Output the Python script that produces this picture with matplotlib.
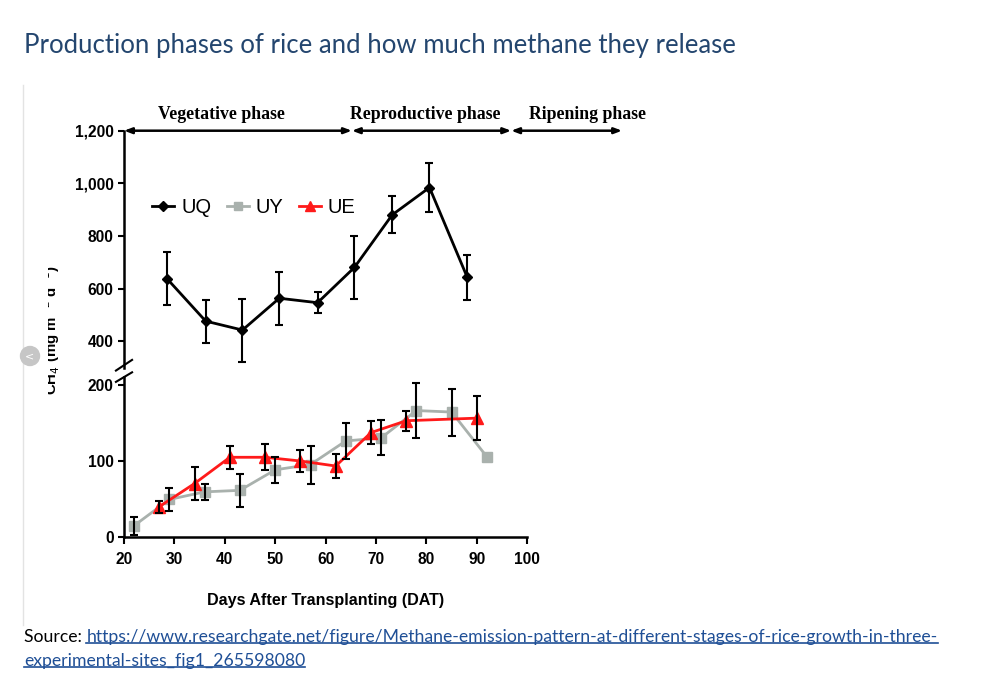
#!/usr/bin/env python3
"""Methane emission pattern at different stages of rice growth (broken y axis)."""

import numpy as np
import matplotlib
matplotlib.use('Agg')
import matplotlib.pyplot as plt
from matplotlib.lines import Line2D
from matplotlib.patches import Ellipse
from matplotlib.transforms import Bbox

# Data
uq_days = [28.5, 36.2, 43.5, 50.8, 58.4, 65.7, 73.2, 80.6, 88.1]
uq_vals = [638, 476, 442, 563, 546, 680, 880, 984, 642]
uq_err = [101, 82, 120, 101, 41, 120, 70, 93, 84]

uy_days = [22, 29, 36, 43, 50, 57, 64, 71, 78, 85, 92]
uy_vals = [14.5, 49, 59, 61, 88, 95, 126, 130, 166, 164, 105]
uy_err = [12, 15, 11, 22, 17, 25, 24, 23, 36, 31, np.nan]

ue_days = [27, 34, 41, 48, 55, 62, 69, 76, 90]
ue_vals = [39.5, 70, 104.5, 104.5, 99.6, 93, 137, 152.6, 156]
ue_err = [8, 22, 15, 17, 14, 16, 15, 13, 29]

phase_names = ['Vegetative phase', 'Reproductive phase', 'Ripening phase']
phase_bounds = [20, 65.2, 96.8, 118.8]
phase_label_x = [39.3, 79.7, 112]

x_ticks = [20, 30, 40, 50, 60, 70, 80, 90, 100]
upper_ticks = [400, 600, 800, 1000, 1200]
lower_ticks = [0, 100, 200]

W, H = 981, 678
fig = plt.figure(figsize=(W / 100, H / 100), dpi=100)
fig.patch.set_facecolor('white')


def px(x, y):
    """pixel (from top-left) -> figure fraction"""
    return x / W, 1 - y / H


TICK_FONT = dict(family='Liberation Sans', weight='bold', size=11.2)

ax_top = fig.add_axes([124 / W, 1 - 368.2 / H, 403.3 / W, 237.5 / H])
ax_bot = fig.add_axes([124 / W, 1 - 536.7 / H, 403.3 / W, 159.6 / H])

for ax in (ax_top, ax_bot):
    ax.set_xlim(20, 100)
    ax.spines['top'].set_visible(False)
    ax.spines['right'].set_visible(False)
    ax.spines['left'].set_linewidth(1.8)
    ax.spines['bottom'].set_linewidth(1.8)
    ax.tick_params(axis='y', direction='out', length=4.5, width=1.5, pad=3)
    ax.patch.set_alpha(0)

ax_top.set_ylim(297, 1200)
ax_top.spines['bottom'].set_visible(False)
ax_top.set_xticks([])
ax_top.set_yticks(upper_ticks)
ax_top.set_yticklabels([f'{v:,}' for v in upper_ticks], fontdict=TICK_FONT)

ax_bot.set_ylim(0, 210)
ax_bot.set_yticks(lower_ticks)
ax_bot.set_yticklabels([str(v) for v in lower_ticks], fontdict=TICK_FONT)
ax_bot.set_xticks(x_ticks)
ax_bot.set_xticklabels([str(v) for v in x_ticks], fontdict=TICK_FONT)
ax_bot.tick_params(axis='x', direction='out', length=5, width=1.5, pad=6)
ax_bot.set_xlabel('Days After Transplanting (DAT)', family='Liberation Sans',
                  weight='bold', size=11.6, labelpad=19)

# series
err_kw = dict(fmt='none', ecolor='black', elinewidth=1.5, capsize=3, capthick=1.5, zorder=4)
ax_top.errorbar(uq_days, uq_vals, yerr=uq_err, **err_kw)
ax_top.plot(uq_days, uq_vals, color='black', lw=2, marker='D', ms=5.5, label='UQ', zorder=5)

ax_bot.errorbar(uy_days, uy_vals, yerr=uy_err, **err_kw)
ax_bot.errorbar(ue_days, ue_vals, yerr=ue_err, **err_kw)
ax_bot.plot(uy_days, uy_vals, color='#a9b1ad', lw=2, marker='s', ms=7, zorder=3)
ax_bot.plot(ue_days, ue_vals, color='#ff1a1a', lw=2, marker='^', ms=8, zorder=3)

handles = [
    Line2D([], [], color='black', lw=2, marker='D', ms=5),
    Line2D([], [], color='#a9b1ad', lw=2, marker='s', ms=5.5),
    Line2D([], [], color='#ff1a1a', lw=2, marker='^', ms=6.5),
]
ax_top.legend(handles, ['UQ', 'UY', 'UE'], ncol=3, loc='center left',
              bbox_to_anchor=(0.07, 0.678), frameon=False,
              prop=dict(family='Liberation Sans', size=14.5),
              handlelength=1.1, handletextpad=0.35, columnspacing=0.75, borderpad=0,
              borderaxespad=0)

# axis break marks
kw = dict(color='black', lw=1.5, clip_on=False)
ax_top.plot([-0.02, 0.02], [-0.01, 0.035], transform=ax_top.transAxes, **kw)
ax_bot.plot([-0.02, 0.02], [0.97, 1.03], transform=ax_bot.transAxes, **kw)

# phase arrows along the top
for i, name in enumerate(phase_names):
    ax_top.annotate('', xy=(phase_bounds[i + 1], 1200), xytext=(phase_bounds[i], 1200),
                    xycoords='data', textcoords='data', annotation_clip=False,
                    arrowprops=dict(arrowstyle='<|-|>,head_length=0.45,head_width=0.17',
                                    color='black', lw=1.8, shrinkA=0, shrinkB=0))
    ax_top.annotate(name, xy=(phase_label_x[i], 1), xycoords=('data', 'axes fraction'),
                    xytext=(0, 12), textcoords='offset points', ha='center', va='center',
                    family='Liberation Serif', weight='bold', size=12.8, annotation_clip=False)

# clipped y label (only right half visible in the source)
ylab = fig.text(*px(51, 330), 'CH$_4$ (mg m$^{-2}$ d$^{-1}$)', rotation=90,
                ha='center', va='center', family='Liberation Sans', weight='bold', size=10.8)
ylab.set_clip_box(Bbox.from_extents(47.5, 0, W, H))
ylab.set_clip_on(True)

# page decorations
fig.add_artist(Line2D([22.5 / W, 22.5 / W], [1 - 85 / H, 1 - 625 / H],
                      color='#e3e3e3', lw=1, transform=fig.transFigure))
fig.add_artist(Ellipse(px(30, 356), 19 / W, 19 / H, transform=fig.transFigure,
                       color='#c6c6c6', zorder=10))
fig.text(*px(30, 356), '<', color='white', ha='center', va='center', size=8, zorder=11)

fig.text(*px(24, 45), 'Production phases of rice and how much methane they release',
         family='Lato', size=18.5, color='#24466f', va='center', ha='left')

# source with underlined link
renderer = fig.canvas.get_renderer()
src_font = dict(family='Lato', size=12.7)
link_color = '#1f4f96'
t0 = fig.text(*px(24, 637), 'Source: ', va='center', ha='left', color='black', **src_font)
bb0 = t0.get_window_extent(renderer)
t1 = fig.text(bb0.x1 / W, 1 - 637 / H,
              'https://www.researchgate.net/figure/Methane-emission-pattern-at-different-stages-of-rice-growth-in-three-',
              va='center', ha='left', color=link_color, **src_font)
t2 = fig.text(*px(24, 661), 'experimental-sites_fig1_265598080', va='center', ha='left',
              color=link_color, **src_font)
for t in (t1, t2):
    bb = t.get_window_extent(renderer)
    yline = bb.y0 + 2
    fig.add_artist(Line2D([bb.x0 / W, bb.x1 / W], [yline / H, yline / H],
                          color=link_color, lw=1.2, transform=fig.transFigure))

fig.savefig('out.png', dpi=100, facecolor='white')
plt.close(fig)
